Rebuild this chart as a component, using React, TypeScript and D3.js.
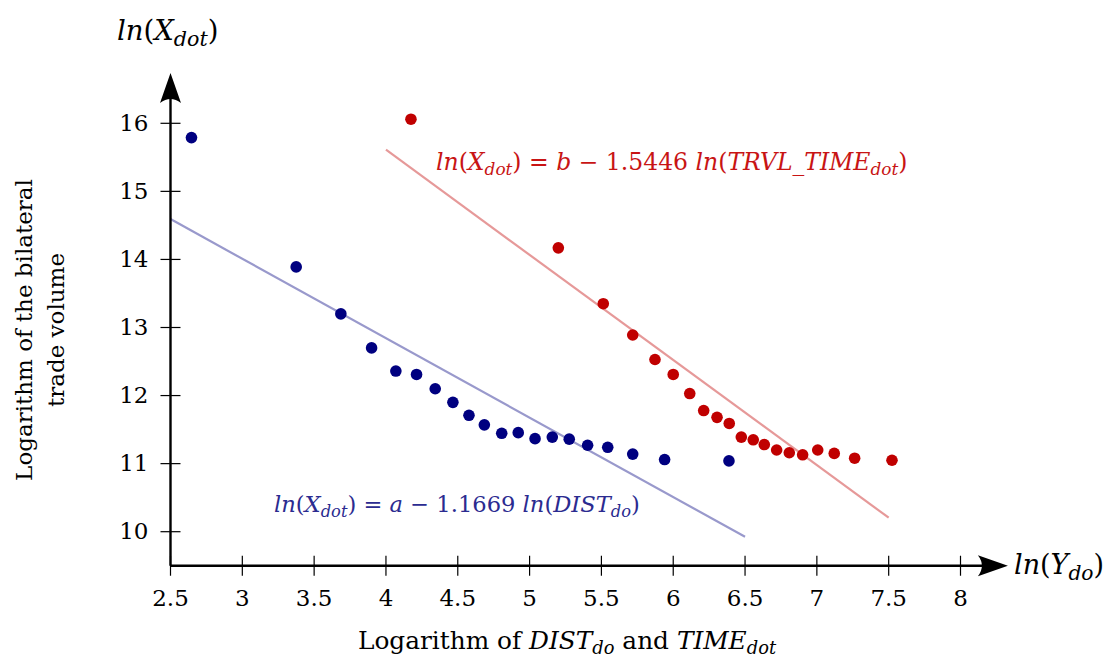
import React from "react";
import * as d3 from "d3";

// Log distance (blue) and log travel time (red) against log trade volume
const distX = [2.646, 3.375, 3.686, 3.9, 4.069, 4.213, 4.343, 4.466, 4.578, 4.685, 4.806, 4.921, 5.038, 5.158, 5.276, 5.404, 5.544, 5.718, 5.94, 6.388];
const distY = [15.79, 13.89, 13.2, 12.7, 12.36, 12.31, 12.1, 11.9, 11.71, 11.57, 11.446, 11.455, 11.367, 11.39, 11.36, 11.27, 11.24, 11.14, 11.06, 11.04];
const timeX = [4.174, 5.2, 5.513, 5.718, 5.873, 6.0, 6.115, 6.212, 6.305, 6.39, 6.474, 6.557, 6.634, 6.72, 6.808, 6.901, 7.006, 7.121, 7.263, 7.523];
const timeY = [16.06, 14.17, 13.35, 12.89, 12.53, 12.31, 12.03, 11.78, 11.68, 11.59, 11.39, 11.35, 11.28, 11.2, 11.16, 11.13, 11.2, 11.15, 11.08, 11.05];

// Fitted lines: intercept, slope and x-extent
const distFit = { a: 17.51, slope: -1.1669, from: 2.5, to: 6.5 };
const timeFit = { a: 21.79, slope: -1.5446, from: 4.0, to: 7.5 };

const xTicks = [2.5, 3, 3.5, 4, 4.5, 5, 5.5, 6, 6.5, 7, 7.5, 8];
const yTicks = [10, 11, 12, 13, 14, 15, 16];

const BLUE = "#000080";
const RED = "#c00000";
const BLUE_LINE = "#9999cc";
const RED_LINE = "#e69999";
const BLUE_TEXT = "#2b2b90";
const RED_TEXT = "#c81414";
const FONT = "'DejaVu Serif', 'Liberation Serif', serif";

type Part = { t: string; i?: boolean; sub?: boolean };

// Renders a small inline formula with italic symbols and subscripts
function MathText({ x, y, parts, size, fill, anchor, subScale = 0.72 }: { x: number; y: number; parts: Part[]; size: number; fill: string; anchor?: string; subScale?: number }) {
  const out: React.ReactNode[] = [];
  let shifted = false;
  parts.forEach((p, k) => {
    let dy = 0;
    if (p.sub && !shifted) { dy = size * 0.22; shifted = true; }
    else if (!p.sub && shifted) { dy = -size * 0.22; shifted = false; }
    out.push(
      <tspan key={k} dy={dy || undefined} fontStyle={p.i ? "italic" : "normal"} fontSize={p.sub ? size * subScale : size}>
        {p.t}
      </tspan>
    );
  });
  return (
    <text x={x} y={y} fill={fill} fontFamily={FONT} fontSize={size} textAnchor={anchor || "start"} style={{ whiteSpace: "pre" }}>
      {out}
    </text>
  );
}

export default function App() {
  const x = d3.scaleLinear().domain([2.5, 8]).range([170.5, 960.5]);
  const y = d3.scaleLinear().domain([10, 16]).range([531.7, 123.3]);

  const x0 = x(2.5);
  const y0 = y(9.5);
  const xTip = x(8.33);
  const yTip = y(16.74);

  const fitLine = (f: { a: number; slope: number; from: number; to: number }) =>
    d3.line<number>().x((v) => x(v)).y((v) => y(f.a + f.slope * v))([f.from, f.to]) || "";

  const tickFont = 23;

  return (
    <svg width={1113} height={664} style={{ position: "absolute", left: 0, top: 0, background: "#fff" }}>
      {/* regression lines */}
      <path d={fitLine(distFit)} stroke={BLUE_LINE} strokeWidth={2.2} fill="none" />
      <path d={fitLine(timeFit)} stroke={RED_LINE} strokeWidth={2.2} fill="none" />

      {/* scatter points */}
      {distX.map((v, i) => (
        <circle key={"d" + i} cx={x(v)} cy={y(distY[i])} r={5.8} fill={BLUE} />
      ))}
      {timeX.map((v, i) => (
        <circle key={"t" + i} cx={x(v)} cy={y(timeY[i])} r={5.8} fill={RED} />
      ))}

      {/* axes */}
      <line x1={x0} y1={y0} x2={xTip - 10} y2={y0} stroke="#000" strokeWidth={2.4} />
      <line x1={x0} y1={y0} x2={x0} y2={yTip + 10} stroke="#000" strokeWidth={2.4} />
      <path
        d={`M${xTip},${y0} L${xTip - 30},${y0 - 10.5} Q${xTip - 22},${y0} ${xTip - 30},${y0 + 10.5} Z`}
        fill="#000"
      />
      <path
        d={`M${x0},${yTip} L${x0 - 10.5},${yTip + 30} Q${x0},${yTip + 22} ${x0 + 10.5},${yTip + 30} Z`}
        fill="#000"
      />

      {/* x ticks */}
      {xTicks.map((t) => (
        <g key={"xt" + t}>
          <line x1={x(t)} x2={x(t)} y1={y0 - 10} y2={y0 + 10} stroke="#000" strokeWidth={1.2} />
          <text x={x(t)} y={y0 + 40} textAnchor="middle" fontFamily={FONT} fontSize={tickFont} fill="#000">
            {String(t)}
          </text>
        </g>
      ))}

      {/* y ticks */}
      {yTicks.map((t) => (
        <g key={"yt" + t}>
          <line x1={x0 - 10} x2={x0 + 10} y1={y(t)} y2={y(t)} stroke="#000" strokeWidth={1.2} />
          <text x={x0 - 22} y={y(t) + 7.5} textAnchor="end" fontFamily={FONT} fontSize={tickFont} fill="#000">
            {String(t)}
          </text>
        </g>
      ))}

      {/* axis end labels */}
      <MathText
        x={117}
        y={40}
        size={27.5}
        subScale={0.75}
        fill="#000"
        parts={[{ t: "ln", i: true }, { t: "(" }, { t: "X", i: true }, { t: "dot", i: true, sub: true }, { t: ")" }]}
      />
      <MathText
        x={1014}
        y={574}
        size={27}
        subScale={0.75}
        fill="#000"
        parts={[{ t: "ln", i: true }, { t: "(" }, { t: "Y", i: true }, { t: "do", i: true, sub: true }, { t: ")" }]}
      />

      {/* axis titles */}
      <g transform="translate(32,330) rotate(-90)">
        <text x={0} y={0} textAnchor="middle" fontFamily={FONT} fontSize={23} fill="#000">
          Logarithm of the bilateral
        </text>
        <text x={0} y={32} textAnchor="middle" fontFamily={FONT} fontSize={23} fill="#000">
          trade volume
        </text>
      </g>
      <MathText
        x={567}
        y={649}
        size={24.8}
        fill="#000"
        anchor="middle"
        parts={[
          { t: "Logarithm of " },
          { t: "DIST", i: true },
          { t: "do", i: true, sub: true },
          { t: " and " },
          { t: "TIME", i: true },
          { t: "dot", i: true, sub: true },
        ]}
      />

      {/* fitted equations */}
      <MathText
        x={436}
        y={170}
        size={23.5}
        fill={RED_TEXT}
        parts={[
          { t: "ln", i: true },
          { t: "(" },
          { t: "X", i: true },
          { t: "dot", i: true, sub: true },
          { t: ") = " },
          { t: "b", i: true },
          { t: " − 1.5446 " },
          { t: "ln", i: true },
          { t: "(" },
          { t: "TRVL_TIME", i: true },
          { t: "dot", i: true, sub: true },
          { t: ")" },
        ]}
      />
      <MathText
        x={274}
        y={512}
        size={22.6}
        fill={BLUE_TEXT}
        parts={[
          { t: "ln", i: true },
          { t: "(" },
          { t: "X", i: true },
          { t: "dot", i: true, sub: true },
          { t: ") = " },
          { t: "a", i: true },
          { t: " − 1.1669 " },
          { t: "ln", i: true },
          { t: "(" },
          { t: "DIST", i: true },
          { t: "do", i: true, sub: true },
          { t: ")" },
        ]}
      />
    </svg>
  );
}
